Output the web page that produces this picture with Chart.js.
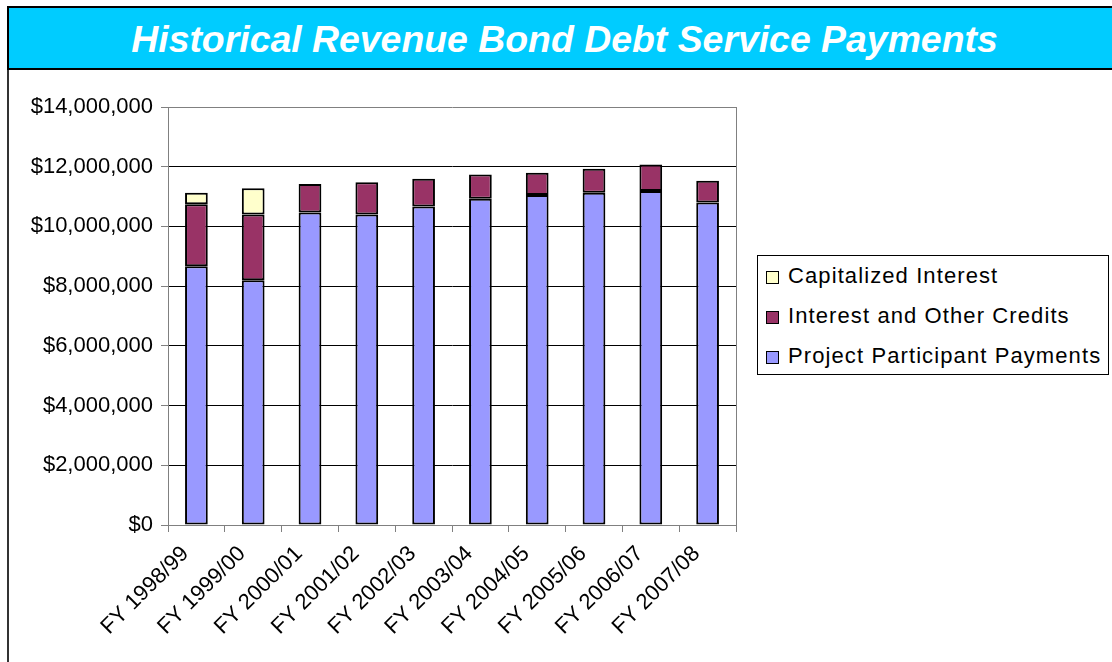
<!DOCTYPE html>
<html>
<head>
<meta charset="utf-8">
<script src="https://cdn.jsdelivr.net/npm/chart.js@4"></script>
<style>
  html, body { margin:0; padding:0; background:#fff; width:1112px; height:662px; overflow:hidden; font-family: "Liberation Sans", Arial, sans-serif; }
  #title { position:absolute; left:7px; top:6px; width:1110px; height:60px; background:#00CCFF; border:2px solid #000; box-sizing:content-box;
           color:#fff; font-weight:bold; font-style:italic; font-size:37.4px; line-height:62px; text-align:center; text-indent:1px; }
  #frame { position:absolute; left:7px; top:70px; width:2px; height:600px; background:#333; }
  #wrap { position:absolute; left:9px; top:70px; width:1103px; height:592px; }
  #legend { position:absolute; left:757px; top:255px; width:352px; height:120px; border:1px solid #000; box-sizing:border-box; background:#fff; padding-top:0px; }
  .li { height:40px; line-height:40px; font-size:22px; letter-spacing:1.1px; color:#000; white-space:nowrap; }
  .sw { display:inline-block; width:11px; height:11px; border:1.5px solid #000; margin-left:8px; margin-right:9px; vertical-align:-1px; }
</style>
</head>
<body>
<div id="title">Historical Revenue Bond Debt Service Payments</div>
<div id="frame"></div>
<div id="wrap"><canvas id="c" width="1103" height="592"></canvas></div>
<div id="legend"></div>
<script>
const categories = ["FY 1998/99","FY 1999/00","FY 2000/01","FY 2001/02","FY 2002/03","FY 2003/04","FY 2004/05","FY 2005/06","FY 2006/07","FY 2007/08"];
const projectParticipantPayments = [8670000, 8200000, 10470000, 10400000, 10670000, 10930000, 11050000, 11130000, 11190000, 10800000];
const interestAndOtherCredits   = [2070000, 2200000,  950000,  1080000,   930000,   810000,   750000,   800000,   880000,   730000];
const capitalizedInterest       = [ 390000,  880000,    null,     null,     null,     null,     null,     null,     null,     null];
const seriesNames = ["Project Participant Payments","Interest and Other Credits","Capitalized Interest"];
const seriesColors = ["#9999FF","#993366","#FFFFCC"];
const yTickMax = 14000000, yTickStep = 2000000;

const fmt = v => "$" + Math.round(v).toLocaleString("en-US");

const borderPlugin = {
  id: 'plotBorder',
  afterDatasetsDraw(chart) {
    const a = chart.chartArea, ctx = chart.ctx;
    ctx.save();
    ctx.strokeStyle = '#808080';
    ctx.lineWidth = 1;
    ctx.beginPath();
    ctx.moveTo(Math.round(a.right)+0.5, a.top);
    ctx.lineTo(Math.round(a.right)+0.5, a.bottom);
    ctx.stroke();
    ctx.restore();
  }
};

const data = {
  labels: categories,
  datasets: [projectParticipantPayments, interestAndOtherCredits, capitalizedInterest].map((d,i)=>({
    label: seriesNames[i],
    data: d,
    backgroundColor: seriesColors[i],
    borderColor: '#000',
    borderWidth: 2,
    borderSkipped: false,
    categoryPercentage: 0.8,
    barPercentage: 0.5
  }))
};

new Chart(document.getElementById('c'), {
  type: 'bar',
  data,
  options: {
    responsive: false,
    animation: false,
    layout: { padding: { left: 0, right: 376, top: 37, bottom: 0 } },
    plugins: { legend: { display: false }, tooltip: { enabled: false } },
    scales: {
      x: {
        stacked: true,
        grid: { drawOnChartArea: false, drawTicks: true, tickLength: 7, tickColor: '#808080', offset: true },
        border: { color: '#808080', width: 1 },
        ticks: { color: '#000', font: { family: 'Liberation Sans', size: 22 }, minRotation: 45, maxRotation: 45, padding: 9, labelOffset: -11 },
        afterFit(s) { s.height = 137; }
      },
      y: {
        stacked: true,
        min: 0, max: yTickMax,
        grid: { color: ctx => (ctx.tick && (ctx.tick.value === 0 || ctx.tick.value === yTickMax)) ? '#808080' : '#000', lineWidth: 1, drawTicks: true, tickLength: 7, tickColor: '#808080' },
        border: { color: '#808080', width: 1 },
        ticks: { stepSize: yTickStep, color: '#000', font: { family: 'Liberation Sans', size: 22 }, padding: 8, callback: v => fmt(v) },
        afterFit(s) { s.width = 159; }
      }
    }
  },
  plugins: [borderPlugin]
});

// legend (reverse order like the reference)
const lg = document.getElementById('legend');
for (let i = seriesNames.length - 1; i >= 0; i--) {
  const d = document.createElement('div');
  d.className = 'li';
  d.innerHTML = '<span class="sw" style="background:' + seriesColors[i] + '"></span>' + seriesNames[i];
  lg.appendChild(d);
}
</script>
</body>
</html>
